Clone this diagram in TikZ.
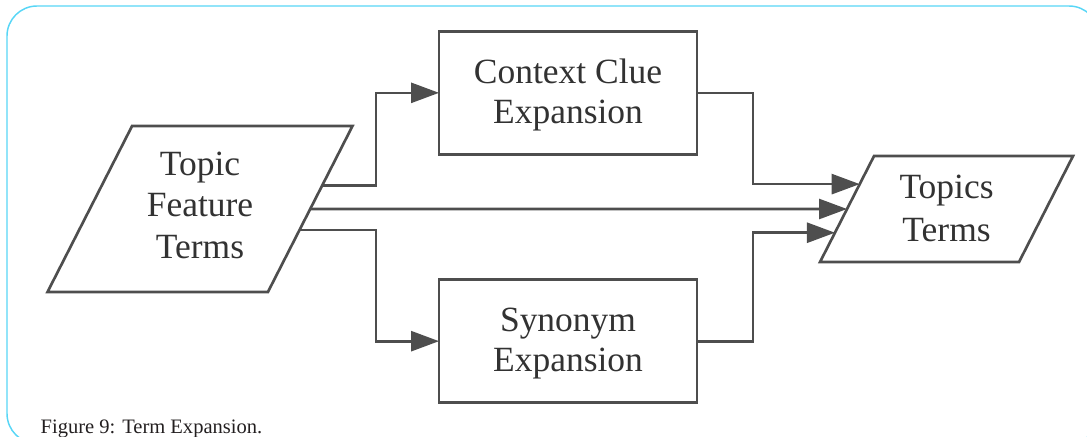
\documentclass[tikz,border=0pt]{standalone}
\usepackage{fontspec}
\setmainfont{Liberation Serif}
\usetikzlibrary{arrows.meta,matrix,shapes.geometric}

\definecolor{framecyan}{RGB}{88,214,246}
\definecolor{linegray}{RGB}{78,78,78}
\definecolor{textgray}{RGB}{50,50,50}
\definecolor{capblack}{RGB}{35,31,32}

\tikzset{>={Triangle[length=21pt,width=15pt]},
  boxtext/.style={font=\rmfamily\fontsize{26.6}{30}\selectfont,
    text=textgray, align=center, outer sep=0pt},
  stage/.style={boxtext, draw=linegray, line width=2pt,
    text height=52pt, text depth=5.8pt,
    minimum width=193.5pt, minimum height=92.25pt},
  terms/.style={boxtext, draw=linegray, line width=2pt, trapezium,
    trapezium left angle=63, trapezium right angle=117,
    trapezium stretches body=true, inner ysep=0pt},
  flow/.style={->, draw=linegray, line width=2pt}}

\begin{document}
\begin{tikzpicture}[x=0.75pt, y=-0.75pt]
  \useasboundingbox (0,0) rectangle (1087,436);
  \draw[framecyan, line width=1.1pt, rounded corners=22.5pt]
    (7,6) rectangle (1099,443.6);
  \node (cap) [anchor=base west, font=\rmfamily\fontsize{15.4}{18}\selectfont,
    text=capblack] at (36,433) {Figure 9: Term Expansion.};

  \matrix (m) [column sep=62.9pt, row sep=-11.25pt, matrix anchor=tf.center]
    at (200,209) {
    & \node (cc) [stage] {Context Clue\\Expansion}; &[27.35pt] \\[-12pt]
    \node (tf) [terms, font=\rmfamily\fontsize{26.6}{31}\selectfont,
      text height=99pt, text depth=25.5pt, minimum width=228.75pt]
      {Topic\\Feature\\Terms}; &
    &[27.35pt] \node (tt) [terms, font=\rmfamily\fontsize{26.6}{32.25}\selectfont,
      text height=63.75pt, text depth=15.75pt, minimum width=189.75pt]
      {Topics\\Terms}; \\
    & \node (sy) [stage] {Synonym\\Expansion}; &[27.35pt] \\
  };

  % split and merge columns of the elbow connectors
  \coordinate (fork) at (376,0);
  \coordinate (merge) at (753,0);
  \draw[flow] (tf.11) -| (fork |- cc.west) -- (cc.west);
  \draw[flow] (tf.east) -- (tt.west);
  \draw[flow] (tf.-12) -| (fork |- sy.west) -- (sy.west);
  \draw[flow] (cc.east) -| (merge |- tt.164) -- (tt.164);
  \draw[flow] (sy.east) -| (merge |- tt.192) -- (tt.192);
\end{tikzpicture}
\end{document}
